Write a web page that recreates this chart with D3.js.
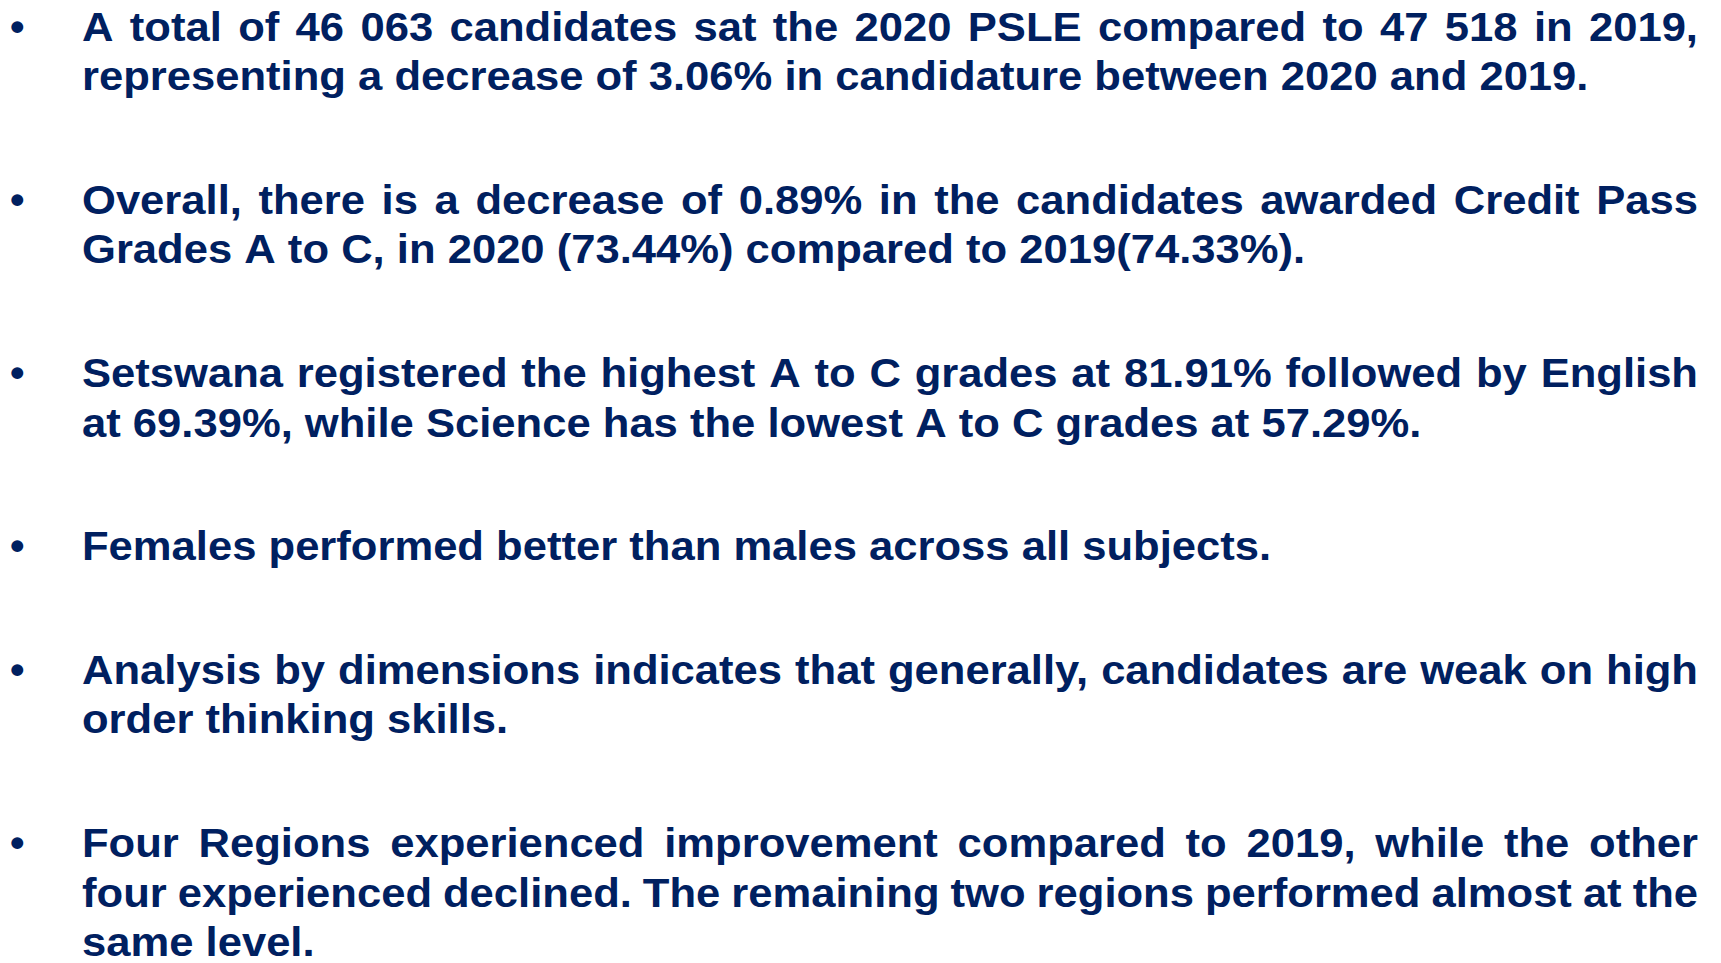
<!DOCTYPE html>
<html>
<head>
<meta charset="utf-8">
<script src="https://cdn.jsdelivr.net/npm/d3@7"></script>
<style>
  body { margin: 0; background: #fff; }
  svg text { font-family: "Liberation Sans", Arial, sans-serif; font-weight: bold; }
</style>
</head>
<body>
<script>
// the bullet points, one array of lines each
var point1 = ["A total of 46 063 candidates sat the 2020 PSLE compared to 47 518 in 2019,",
              "representing a decrease of 3.06% in candidature between 2020 and 2019."];
var point2 = ["Overall, there is a decrease of 0.89% in the candidates awarded Credit Pass",
              "Grades A to C, in 2020 (73.44%) compared to 2019(74.33%)."];
var point3 = ["Setswana registered the highest A to C grades at 81.91% followed by English",
              "at 69.39%, while Science has the lowest A to C grades at 57.29%."];
var point4 = ["Females performed better than males across all subjects."];
var point5 = ["Analysis by dimensions indicates that generally, candidates are weak on high",
              "order thinking skills."];
var point6 = ["Four Regions experienced improvement compared to 2019, while the other",
              "four experienced declined. The remaining two regions performed almost at the",
              "same level."];
var points = [point1, point2, point3, point4, point5, point6];

var width = 1721, height = 963;
var textLeft = 82, textRight = 1698, bulletX = 10;
var fontSize = 41.5, stretch = 1.05;   // the slide text is a bit wider than the font
var lineStep = 49.3, paraGap = 74.5, firstBaseline = 41;
var color = "#002060";

var svg = d3.select("body").append("svg")
    .attr("width", width)
    .attr("height", height);

var y = firstBaseline;
points.forEach(function(lines) {
  // bullet
  svg.append("text")
      .attr("x", bulletX)
      .attr("y", y)
      .attr("font-size", fontSize)
      .attr("fill", color)
      .text("\u2022");

  lines.forEach(function(line, i) {
    var words = line.split(" ");
    var t = svg.append("text")
        .attr("transform", "translate(" + textLeft + "," + y + ") scale(" + stretch + ",1)")
        .attr("font-size", fontSize)
        .attr("fill", color);
    var spans = t.selectAll("tspan")
        .data(words)
        .enter().append("tspan")
        .text(function(d) { return d; });

    // measure words, justify all but the last line
    var widths = [];
    spans.each(function() { widths.push(this.getComputedTextLength()); });
    var spaceW = fontSize * 0.278;
    var avail = (textRight - textLeft) / stretch;
    var last = i === lines.length - 1;
    var gap = (!last && words.length > 1) ? (avail - d3.sum(widths)) / (words.length - 1) : spaceW;
    var x = 0;
    spans.attr("x", function(d, j) {
      var px = x;
      x += widths[j] + gap;
      return px;
    });
    y += lineStep;
  });
  y += paraGap;
});
</script>
</body>
</html>
